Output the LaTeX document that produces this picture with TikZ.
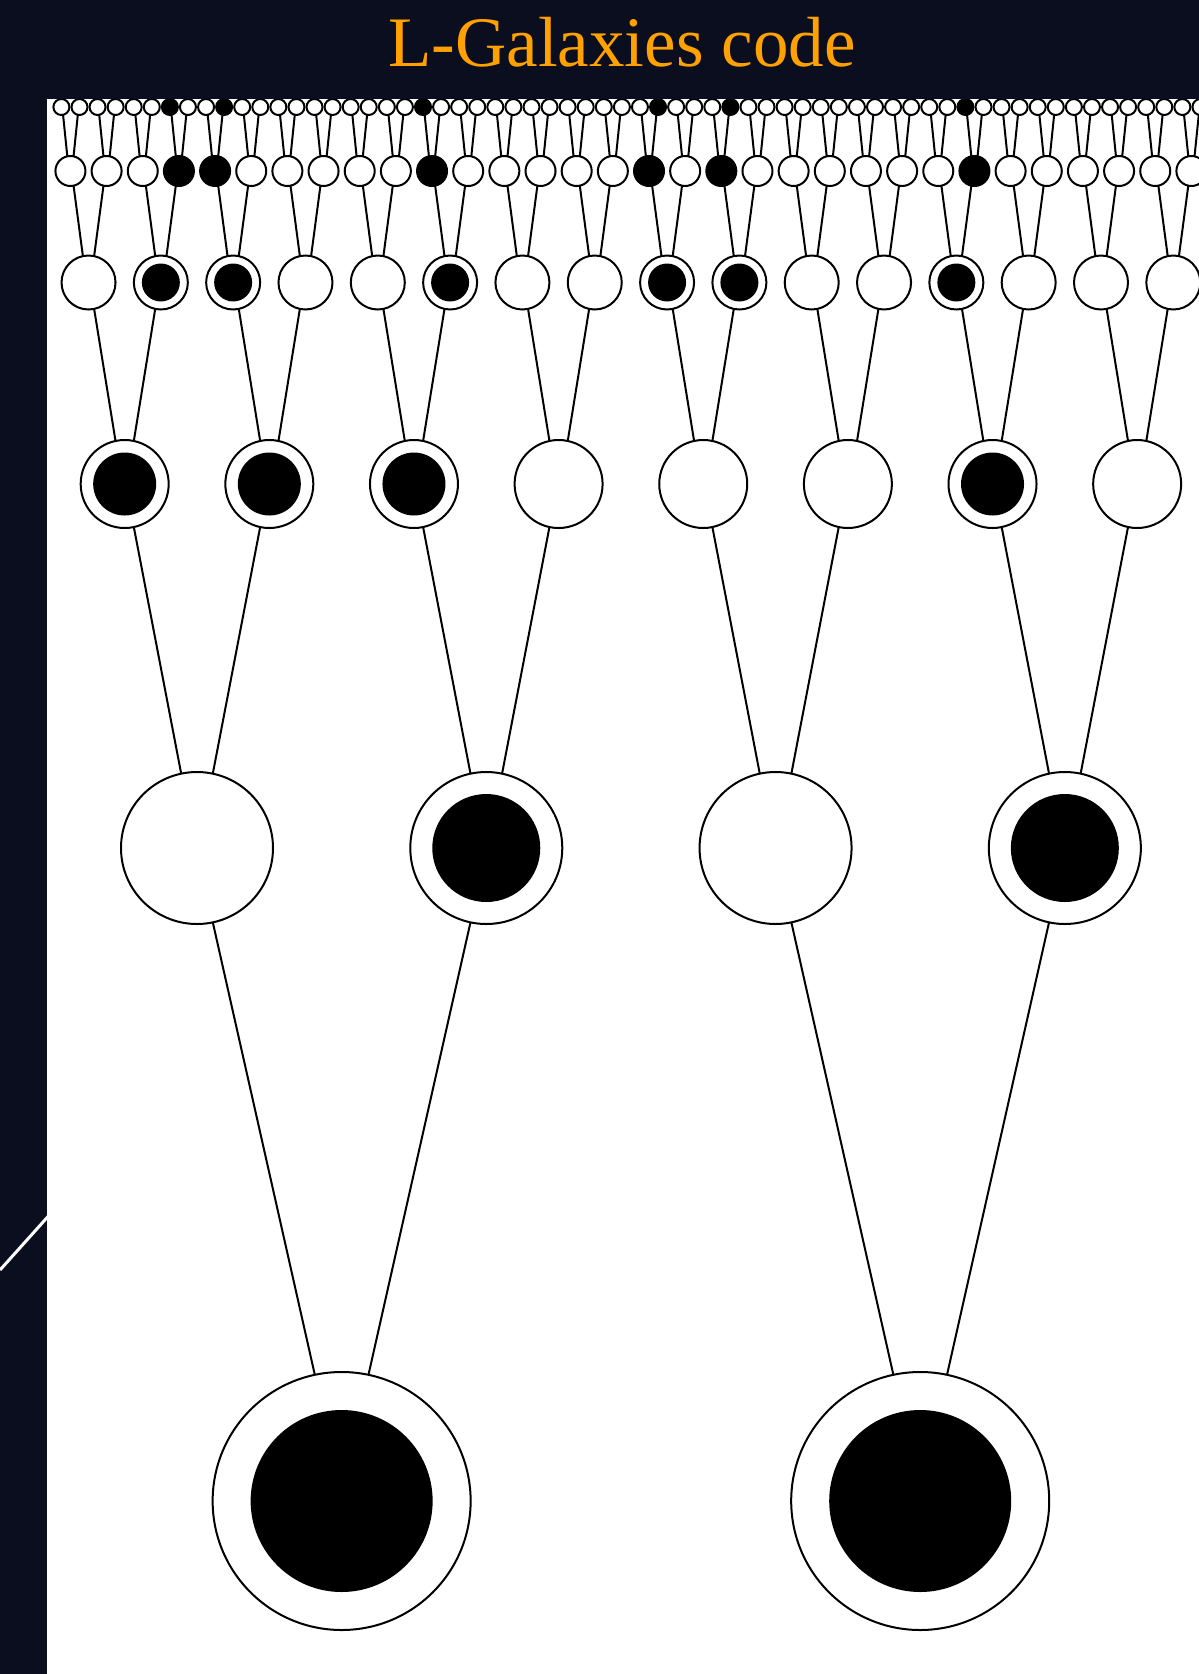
\documentclass[tikz,border=0pt]{standalone}
\usepackage{fontspec}
\setmainfont{Liberation Serif}
\definecolor{night}{RGB}{11,14,31}
\definecolor{amber}{RGB}{255,161,0}
\begin{document}
\begin{tikzpicture}[x=1pt,y=-1pt,
  halo/.style={circle, draw=black, fill=white, line width=2pt,
               inner sep=0pt, outer sep=0pt, minimum size=#1},
  core/.style={fill=black},
  branch/.style={draw=black, line width=2pt},
  heading/.style={text=amber, anchor=base, inner sep=0pt,
                  font=\fontsize{71}{80}\selectfont}]
  % canvas and dark backdrop
  \useasboundingbox (0,0) rectangle (1199,1674);
  \fill[night] (0,0) rectangle (1199,1674);
  % thin diagonal stroke behind the panel
  \draw[white, line width=3pt] (0,1270) -- (70,1192);
  % white panel
  \fill[white] (47,99) rectangle (1199,1674);
  \node[heading] (title) at (622,66) {L-Galaxies code};

  \begin{scope}
    \clip (47,99) rectangle (1199,1674);
    % halos: level / y / radius / count
    \foreach \lv/\yy/\rr/\nn in {0/1501/129/2, 1/848/76/4, 2/484/44/8,
                                 3/282.5/27/16, 4/171/15/32, 5/107/8/64} {
      \pgfmathtruncatemacro\last{\nn-1}
      \foreach \i in {0,...,\last} {
        \pgfmathsetmacro\xx{61.4+18.08*(2^(5-\lv)*\i+(2^(5-\lv)-1)/2)}
        \node[halo=2*\rr pt] (n\lv-\i) at (\xx,\yy) {};
      }
    }
    % black cores
    \foreach \i in {0,1} \fill[core] (n0-\i.center) circle (91pt);
    \foreach \i in {1,3} \fill[core] (n1-\i.center) circle (54pt);
    \foreach \i in {0,1,2,6} \fill[core] (n2-\i.center) circle (31.5pt);
    \foreach \i in {1,2,5,8,9,12} \fill[core] (n3-\i.center) circle (19pt);
    \foreach \i in {3,4,10,16,18,25} \fill[core] (n4-\i.center) circle (14.5pt);
    \foreach \i in {6,9,20,33,37,50} \fill[core] (n5-\i.center) circle (8pt);
    % branches from each halo up to its two progenitors
    \foreach \lv in {0,...,4} {
      \pgfmathtruncatemacro\last{2^(\lv+1)-1}
      \pgfmathtruncatemacro\up{\lv+1}
      \foreach \i in {0,...,\last} {
        \pgfmathtruncatemacro\a{2*\i}
        \pgfmathtruncatemacro\b{2*\i+1}
        \draw[branch] (n\lv-\i.102) -- (n\up-\a.-78);
        \draw[branch] (n\lv-\i.78) -- (n\up-\b.-102);
      }
    }
  \end{scope}
\end{tikzpicture}
\end{document}
